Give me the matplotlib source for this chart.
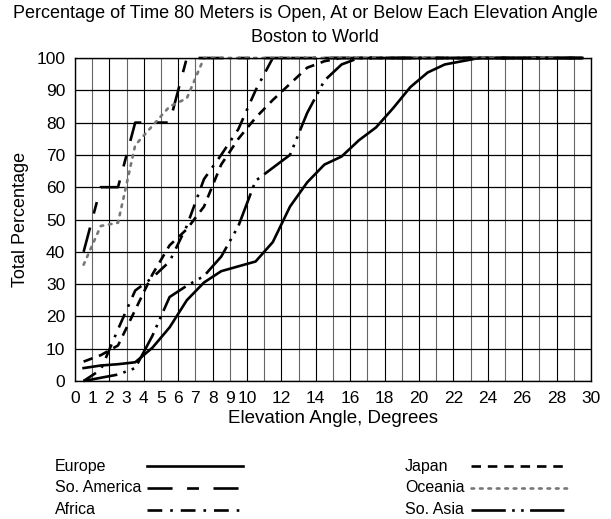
import matplotlib
matplotlib.use("Agg")
import matplotlib.pyplot as plt
from matplotlib.lines import Line2D

plt.rcParams['font.family'] = ['Liberation Sans', 'DejaVu Sans']

# elevation angle (degrees) of each reading
angles = [0.5, 1.5, 2.5, 3.5, 4.5, 5.5, 6.5, 7.5, 8.5, 9.5,
          10.5, 11.5, 12.5, 13.5, 14.5, 15.5, 16.5, 17.5, 18.5, 19.5,
          20.5, 21.5, 22.5, 23.5, 24.5, 25.5, 26.5, 27.5, 28.5, 29.5]

europe = [4, 4.8, 5.2, 5.8, 10.3, 16.6, 25, 30.5, 34, 35.5,
          37, 43, 54, 61.5, 67, 69.5, 74.5, 78.5, 84.5, 91,
          95.5, 98, 99, 100, 100, 100, 100, 100, 100, 100]
so_america = [40, 60, 60, 80, 80, 80, 100, 100, 100, 100,
              100, 100, 100, 100, 100, 100, 100, 100, 100, 100,
              100, 100, 100, 100, 100, 100, 100, 100, 100, 100]
africa = [0, 3.5, 16, 28, 32, 37, 48, 62.5, 70, 78,
          90, 100, 100, 100, 100, 100, 100, 100, 100, 100,
          100, 100, 100, 100, 100, 100, 100, 100, 100, 100]
japan = [6, 8, 11, 22, 33, 42, 47, 54, 67, 75,
         81.5, 87, 92, 97, 99, 100, 100, 100, 100, 100,
         100, 100, 100, 100, 100, 100, 100, 100, 100, 100]
oceania = [36, 48, 49, 73, 79, 85, 87.5, 100, 100, 100,
           100, 100, 100, 100, 100, 100, 100, 100, 100, 100,
           100, 100, 100, 100, 100, 100, 100, 100, 100, 100]
so_asia = [0, 1, 2, 4, 14, 26, 29.5, 32.5, 38.5, 48,
           62, 66, 70, 83, 93, 98, 100, 100, 100, 100,
           100, 100, 100, 100, 100, 100, 100, 100, 100, 100]

x_ticks = list(range(0, 31))
x_labels = [str(t) if (t <= 10 or t % 2 == 0) else '' for t in x_ticks]
y_ticks = [0, 10, 20, 30, 40, 50, 60, 70, 80, 90, 100]

lw = 1.9
styles = {
    'Europe':      dict(color='black', linestyle='-'),
    'So. America': dict(color='black', linestyle=(0, (9.5, 5.5, 4.5, 5.5))),
    'Africa':      dict(color='black', linestyle=(0, (5.6, 3, 1, 3))),
    'Japan':       dict(color='black', linestyle=(0, (3.6, 2.6))),
    'Oceania':     dict(color='#777777', linestyle=(0, (1, 2.2)), dash_capstyle='round'),
    'So. Asia':    dict(color='black', linestyle=(0, (13, 2.4, 1, 2.4, 1, 2.4))),
}
series = [('Europe', europe), ('So. America', so_america), ('Africa', africa),
          ('Japan', japan), ('Oceania', oceania), ('So. Asia', so_asia)]

fig = plt.figure(figsize=(6.11, 5.19), dpi=100)
ax = fig.add_axes([75/611, 1 - 381/519, (591 - 75)/611, (381 - 58)/519])

for name, vals in series:
    ax.plot(angles, vals, lw=lw, clip_on=False, **styles[name])

ax.set_xlim(0, 30)
ax.set_ylim(0, 100)
ax.set_xticks(x_ticks)
ax.set_xticklabels(x_labels)
ax.set_yticks(y_ticks)
ax.tick_params(length=0, labelsize=12.5, colors='black')
ax.tick_params(axis='x', pad=7)
ax.tick_params(axis='y', pad=7)
ax.set_axisbelow(True)
for t in x_ticks:
    ax.axvline(t, color='black' if t % 2 == 0 else '#666666', lw=0.8, zorder=0)
ax.yaxis.grid(True, color='black', lw=0.9)
for s in ax.spines.values():
    s.set_color('black')
    s.set_linewidth(1.0)

ax.set_xlabel('Elevation Angle, Degrees', fontsize=13.5, labelpad=3)
ax.set_ylabel('Total Percentage', fontsize=13, labelpad=5)

fig.text(0.5, 1 - 14/519, 'Percentage of Time 80 Meters is Open, At or Below Each Elevation Angle',
         ha='center', va='center', fontsize=13)
fig.text(0.515, 1 - 38/519, 'Boston to World', ha='center', va='center', fontsize=13)

# legend: label text first, sample line after
rows_y = [466, 488, 510]
cols = [(55, 147, 243), (405, 471, 567)]
for i, (name, _) in enumerate(series):
    tx, l0, l1 = cols[i // 3]
    yy = 1 - rows_y[i % 3]/519
    fig.text(tx/611, yy, name, ha='left', va='center', fontsize=11.5)
    fig.add_artist(Line2D([l0/611, l1/611], [yy, yy], lw=lw, transform=fig.transFigure,
                          **styles[name]))

fig.savefig('out.png', dpi=100)
